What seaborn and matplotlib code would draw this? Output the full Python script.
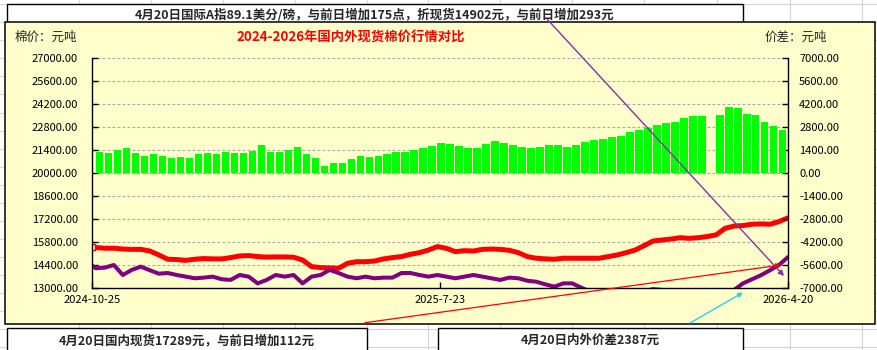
import numpy as np
import pandas as pd
import matplotlib
matplotlib.use("Agg")
import matplotlib.pyplot as plt
import matplotlib.dates as mdates
from matplotlib.patches import Rectangle
import seaborn as sns

# ---------------- data ----------------
start_date = "2024-10-25"
first_monday = "2024-10-28"
end_date = "2026-04-20"

# domestic spot price (yuan/ton), first point = 2024-10-25, then weekly Mondays
domestic = [15540,
            15480, 15440, 15440, 15390, 15370, 15370, 15270, 15030, 14770, 14750,
            14700, 14770, 14810, 14790, 14790, 14870, 14970, 14990, 14930, 14900,
            14910, 14910, 14890, 14720, 14320, 14260, 14240, 14220, 14520, 14620,
            14620, 14660, 14790, 14870, 14930, 15070, 15170, 15330, 15540, 15430,
            15230, 15290, 15270, 15370, 15390, 15370, 15310, 15170, 14930, 14830,
            14790, 14770, 14830, 14830, 14830, 14830, 14830, 14930, 15030, 15170,
            15330, 15600, 15880, 15940, 16000, 16080, 16040, 16080, 16150, 16250,
            16650, 16790, 16820, 16900, 16920, 16900, 17060, 17289]

# international spot converted (yuan/ton)
international = [14380,
                 14220, 14260, 14420, 13810, 14120, 14320, 14100, 13890, 13930, 13810,
                 13710, 13610, 13650, 13710, 13550, 13510, 13810, 13710, 13300, 13510,
                 13810, 13710, 13810, 13300, 13710, 13810, 14120, 13930, 13710, 13610,
                 13710, 13610, 13650, 13650, 13930, 13930, 13810, 13710, 13810, 13710,
                 13610, 13710, 13810, 13710, 13610, 13510, 13650, 13610, 13460, 13400,
                 13240, 13100, 13300, 13300, 13040, 12800, 12750, 12700, 12740, 12640,
                 12700, 12820, 12950, 12900, 12860, 12700, 12530, 12610, 12700, 12750,
                 12800, 12900, 13300, 13550, 13800, 14100, 14420, 14902]

# weekly price spread (yuan/ton), weeks starting 2024-10-28
spread = [1300, 1240, 1400, 1550, 1230, 1060, 1200, 1080, 920, 1000,
          920, 1200, 1220, 1160, 1320, 1260, 1220, 1360, 1750, 1320,
          1320, 1420, 1600, 1150, 910, 450, 600, 650, 900, 1050,
          1020, 1060, 1160, 1320, 1280, 1420, 1520, 1660, 1830, 1760,
          1660, 1570, 1520, 1770, 1950, 1830, 1720, 1580, 1520, 1620,
          1720, 1720, 1620, 1720, 1890, 2030, 2070, 2230, 2290, 2540,
          2640, 2780, 2940, 3040, 3150, 3390, 3510, 3470, np.nan, 3550,
          4060, 4000, 3600, 3550, 3150, 2900, 2650]

x_tick_dates = ["2024-10-25", "2025-07-23", "2026-04-20"]
x_tick_labels = ["2024-10-25", "2025-7-23", "2026-4-20"]

title_text = "2024-2026年国内外现货棉价行情对比"
left_label = "棉价：元吨"
right_label = "价差：元吨"
top_note = "4月20日国际A指89.1美分/磅，与前日增加175点，折现货14902元，与前日增加293元"
bottom_note1 = "4月20日国内现货17289元，与前日增加112元"
bottom_note2 = "4月20日内外价差2387元"

# ---------------- styling ----------------
sns.set_theme(style="white")
plt.rcParams["font.family"] = ["Noto Sans CJK SC", "DejaVu Sans"]
plt.rcParams["axes.unicode_minus"] = False

W, H = 878, 350
fig = plt.figure(figsize=(W / 100, H / 100), dpi=100)
fig.patch.set_facecolor("white")

CHART_BG = "#FFFFCC"

# background layer in pixel coordinates
bg = fig.add_axes([0, 0, 1, 1])
bg.set_zorder(-10)
bg.set_xlim(0, W)
bg.set_ylim(H, 0)
bg.axis("off")

# spreadsheet cell gridlines
for gx in [79, 151, 223, 295, 367, 428, 500, 572, 644, 717, 790, 862]:
    bg.plot([gx, gx], [0, H], color="#D4D4D4", lw=0.8, zorder=0)
for i in range(20):
    gy = 4.1 + 18.07 * i
    bg.plot([0, W], [gy, gy], color="#D4D4D4", lw=0.8, zorder=0)

# top note box
bg.add_patch(Rectangle((7, 4), 736, 30, facecolor="white", edgecolor="black", lw=1.0, zorder=1))
bg.text(375, 15, top_note, ha="center", va="center", fontsize=9, fontweight="bold", zorder=1.5)

# chart area
bg.add_patch(Rectangle((5, 21.7), 870, 302.3, facecolor=CHART_BG, edgecolor="black", lw=1.1, zorder=2))
bg.text(15, 37.5, left_label, ha="left", va="center", fontsize=9, zorder=3)
bg.text(765, 37.5, right_label, ha="left", va="center", fontsize=9, zorder=3)
bg.text(351, 37.5, title_text, ha="center", va="center", fontsize=9.6, fontweight="bold",
        color="#FF0000", zorder=3)

# bottom note boxes
bg.add_patch(Rectangle((7, 328), 360, 30, facecolor="white", edgecolor="black", lw=1.0, zorder=2))
bg.add_patch(Rectangle((438, 328), 305, 30, facecolor="white", edgecolor="black", lw=1.0, zorder=2))
bg.text(187, 340.5, bottom_note1, ha="center", va="center", fontsize=9, fontweight="bold", zorder=3)
bg.text(590, 340.5, bottom_note2, ha="center", va="center", fontsize=9, fontweight="bold", zorder=3)

# ---------------- main plot ----------------
left_px, right_px, top_px, bot_px = 92, 788, 58.3, 288.3
ax = fig.add_axes([left_px / W, (H - bot_px) / H, (right_px - left_px) / W, (bot_px - top_px) / H])
ax.set_zorder(1)
ax.set_facecolor(CHART_BG)

line_dates = pd.to_datetime([start_date] + list(pd.date_range(first_monday, end_date, freq="7D")))
df = pd.DataFrame({"date": line_dates, "domestic": domestic, "international": international})

sns.lineplot(data=df, x="date", y="domestic", ax=ax, color="#FF0000", lw=3.6,
             marker="s", markevery=[0], ms=4, mfc=CHART_BG, mec="#FF0000", mew=1.0)
sns.lineplot(data=df, x="date", y="international", ax=ax, color="#800080", lw=2.9)

ax.set_ylim(13000, 27000)
yt = np.arange(13000, 27001, 1400)
ax.set_yticks(yt)
ax.set_yticklabels([f"{v:.2f}" for v in yt])
ax.yaxis.grid(True, color="#A8A8A8", linestyle=(0, (2.5, 2)), lw=0.8)
ax.xaxis.grid(False)
ax.set_xlabel("")
ax.set_ylabel("")

x0 = mdates.date2num(pd.Timestamp(start_date))
x1 = mdates.date2num(pd.Timestamp(end_date))
ax.set_xlim(x0, x1)
ax.set_xticks(mdates.date2num(pd.to_datetime(x_tick_dates)))
ax.set_xticklabels(x_tick_labels)

# spread bars on twin axis
ax2 = ax.twinx()
ax2.set_zorder(2)
ax2.patch.set_visible(False)
week_dates = mdates.date2num(pd.date_range(first_monday, periods=len(spread), freq="7D"))
ax2.bar(week_dates, spread, width=5.8, align="edge", color="#00FF00", linewidth=0)
ax2.set_ylim(-7000, 7000)
yt2 = np.arange(-7000, 7001, 1400)
ax2.set_yticks(yt2)
ax2.set_yticklabels([f"{v:.2f}" for v in yt2])
ax2.set_xlim(x0, x1)
ax2.set_ylabel("")

for s in ["top", "right"]:
    ax.spines[s].set_visible(False)
for s in ["left", "bottom"]:
    ax.spines[s].set_visible(True)
    ax.spines[s].set_color("black")
    ax.spines[s].set_linewidth(1.0)
for s in ["top", "left", "bottom"]:
    ax2.spines[s].set_visible(False)
ax2.spines["right"].set_visible(True)
ax2.spines["right"].set_color("black")
ax2.spines["right"].set_linewidth(1.0)

tick_font = 8
ax.tick_params(axis="y", left=True, direction="in", length=4, width=1, colors="black",
               labelsize=tick_font, pad=10)
ax.tick_params(axis="x", bottom=True, direction="in", length=4, width=1, colors="black",
               labelsize=tick_font, pad=5)
ax2.tick_params(axis="y", right=True, direction="in", length=4, width=1, colors="black",
                labelsize=tick_font, pad=8)

# ---------------- foreground arrows ----------------
fg = fig.add_axes([0, 0, 1, 1])
fg.set_zorder(20)
fg.patch.set_visible(False)
fg.set_xlim(0, W)
fg.set_ylim(H, 0)
fg.axis("off")

fg.annotate("", xy=(784, 276), xytext=(547, 19),
            arrowprops=dict(arrowstyle="-|>", color="#8B2FA8", lw=1.0, mutation_scale=8,
                            shrinkA=0, shrinkB=0))
fg.annotate("", xy=(781, 265), xytext=(365, 322.7),
            arrowprops=dict(arrowstyle="-|>", color="#FF0000", lw=0.9, mutation_scale=7,
                            shrinkA=0, shrinkB=0))
fg.annotate("", xy=(743, 292.5), xytext=(690, 323),
            arrowprops=dict(arrowstyle="-|>", color="#33CCEE", lw=1.0, mutation_scale=7,
                            shrinkA=0, shrinkB=0))

fig.savefig("out.png", dpi=100, facecolor="white")
